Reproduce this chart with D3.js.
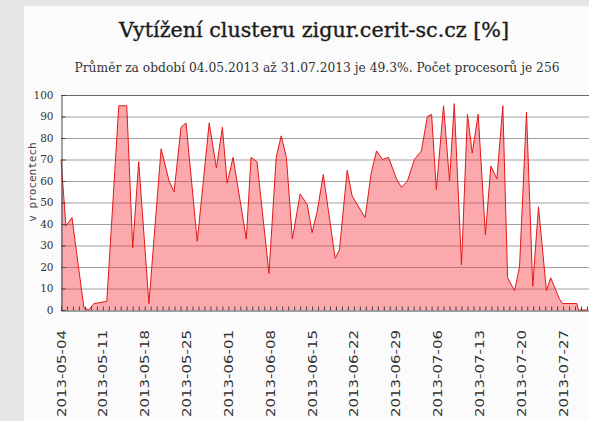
<!DOCTYPE html>
<html>
<head>
<meta charset="utf-8">
<script src="https://d3js.org/d3.v7.min.js"></script>
<style>
  body { margin: 0; background: #e6e6e6; }
  svg { display: block; }
  .axis path, .axis line { stroke: #444; }
</style>
</head>
<body>
<div id="chart"></div>
<script>
// samples: time stamp and cluster load in %
const times = [
  "2013-05-04 00:00", "2013-05-04 20:00", "2013-05-05 20:00", "2013-05-07 20:00", "2013-05-08 16:00",
  "2013-05-09 12:00", "2013-05-11 16:00", "2013-05-13 16:00", "2013-05-15 00:00", "2013-05-16 00:00",
  "2013-05-17 00:00", "2013-05-18 17:00", "2013-05-20 18:00", "2013-05-22 02:00", "2013-05-22 22:00",
  "2013-05-24 02:00", "2013-05-24 22:00", "2013-05-26 19:00", "2013-05-28 19:00", "2013-05-30 00:00",
  "2013-05-31 00:00", "2013-05-31 19:00", "2013-06-01 19:00", "2013-06-04 00:00", "2013-06-04 19:00",
  "2013-06-05 19:00", "2013-06-07 19:00", "2013-06-09 00:00", "2013-06-09 20:00", "2013-06-10 17:00",
  "2013-06-11 17:00", "2013-06-13 00:00", "2013-06-14 05:00", "2013-06-15 00:00", "2013-06-15 21:00",
  "2013-06-16 21:00", "2013-06-18 21:00", "2013-06-19 14:00", "2013-06-20 21:00", "2013-06-21 17:00",
  "2013-06-23 21:00", "2013-06-24 22:00", "2013-06-25 19:00", "2013-06-26 19:00", "2013-06-27 19:00",
  "2013-06-29 03:00", "2013-06-29 23:00", "2013-06-30 23:00", "2013-07-02 03:00", "2013-07-03 07:00",
  "2013-07-04 07:00", "2013-07-05 00:00", "2013-07-05 19:00", "2013-07-07 00:00", "2013-07-08 00:00",
  "2013-07-08 19:00", "2013-07-10 00:00", "2013-07-11 00:00", "2013-07-11 19:00", "2013-07-12 19:00",
  "2013-07-14 00:00", "2013-07-14 22:00", "2013-07-15 22:00", "2013-07-16 22:00", "2013-07-17 17:00",
  "2013-07-18 21:00", "2013-07-19 17:00", "2013-07-20 21:00", "2013-07-21 22:00", "2013-07-22 21:00",
  "2013-07-24 05:00", "2013-07-24 22:00", "2013-07-26 10:00", "2013-07-26 22:00", "2013-07-29 07:00",
  "2013-07-29 14:00", "2013-07-31 00:00"
];
const load = [
  70, 39, 43, 1, 0,
  3, 4, 95, 95, 29,
  69, 3, 75, 60, 55,
  85, 87, 32, 87, 66,
  85, 59, 71, 33, 71,
  69, 17, 71, 81, 71,
  33, 54, 49, 36, 46,
  63, 24, 28, 65, 53,
  43, 64, 74, 70, 71,
  61, 57, 60, 70, 74,
  90, 91, 56, 95, 60,
  96, 21, 91, 73, 91,
  35, 67, 61, 95, 15,
  9, 20, 92, 11, 48,
  9, 15, 5, 3, 3,
  0, 0
];
const yTicks = [0, 10, 20, 30, 40, 50, 60, 70, 80, 90, 100];
const startDate = "2013-05-04";
const endDate = "2013-08-01";

const title = "Vytížení clusteru zigur.cerit-sc.cz [%]";
const subtitle = "Průměr za období 04.05.2013 až 31.07.2013 je 49.3%. Počet procesorů je 256";
const yLabel = "v procentech";

const W = 589, H = 421;
const plot = {left: 61, right: 593, top: 95, bottom: 310};
const serif = "'DejaVu Serif', serif";

const parseT = d3.utcParse("%Y-%m-%d %H:%M");
const parseD = d3.utcParse("%Y-%m-%d");
const data = times.map((t, i) => ({t: parseT(t), v: load[i]}));

const svg = d3.select("#chart").append("svg")
  .attr("width", W)
  .attr("height", H);

// grey page, light panel
svg.append("rect").attr("width", W).attr("height", H).attr("fill", "#e6e6e6");
svg.append("rect").attr("x", 24).attr("y", 6).attr("width", W - 24).attr("height", H - 6).attr("fill", "#fbfbfb");
svg.append("rect")
  .attr("x", plot.left).attr("y", plot.top)
  .attr("width", plot.right - plot.left).attr("height", plot.bottom - plot.top)
  .attr("fill", "#fff");

const x = d3.scaleUtc()
  .domain([parseD(startDate), parseD(endDate)])
  .range([plot.left, plot.right]);
const y = d3.scaleLinear()
  .domain([0, 100])
  .range([plot.bottom, plot.top]);

// horizontal grid
svg.append("g")
  .selectAll("line")
  .data(yTicks.slice(1))
  .join("line")
    .attr("x1", plot.left).attr("x2", plot.right)
    .attr("y1", d => y(d) + 0.5).attr("y2", d => y(d) + 0.5)
    .attr("stroke", d => d === 100 ? "#666" : "#a0a0a0")
    .attr("stroke-width", 1);

// load area
svg.append("path")
  .datum(data)
  .attr("fill", "rgba(245, 50, 60, 0.42)")
  .attr("d", d3.area().x(d => x(d.t)).y0(y(0)).y1(d => y(d.v)));
svg.append("path")
  .datum(data)
  .attr("fill", "none")
  .attr("stroke", "#e31818")
  .attr("stroke-width", 1)
  .attr("d", d3.line().x(d => x(d.t)).y(d => y(d.v)));

// y axis
const yAxis = svg.append("g")
  .attr("class", "axis")
  .attr("transform", `translate(${plot.left + 0.5},0)`)
  .call(d3.axisLeft(y).tickValues(yTicks).tickSize(-4).tickPadding(8));
yAxis.select(".domain").attr("stroke", "#333");
yAxis.selectAll("text")
  .attr("font-family", serif)
  .attr("font-size", 10.5)
  .attr("fill", "#333");

// daily minor ticks
const dayAxis = svg.append("g")
  .attr("class", "axis")
  .attr("transform", `translate(0,${plot.bottom + 0.5})`)
  .call(d3.axisBottom(x).ticks(d3.utcDay.every(1)).tickSize(-4).tickFormat(""));
dayAxis.select(".domain").attr("stroke", "#bbb");
dayAxis.selectAll("line").attr("stroke", "#555");

// weekly labels
const weekAxis = svg.append("g")
  .attr("transform", `translate(0,${plot.bottom})`)
  .call(d3.axisBottom(x)
    .ticks(d3.utcSaturday.every(1))
    .tickSize(0)
    .tickFormat(d3.utcFormat("%Y-%m-%d")));
weekAxis.select(".domain").remove();
weekAxis.selectAll("text")
  .attr("transform", "rotate(-90)")
  .attr("text-anchor", "end")
  .attr("x", -20)
  .attr("y", 0)
  .attr("dy", "0.35em")
  .attr("font-family", "'DejaVu Sans', sans-serif")
  .attr("font-size", 11.5)
  .attr("textLength", 87)
  .attr("lengthAdjust", "spacingAndGlyphs")
  .attr("fill", "#333");

// titles
svg.append("text")
  .attr("x", 314).attr("y", 37)
  .attr("text-anchor", "middle")
  .attr("font-family", serif)
  .attr("font-size", 21)
  .attr("textLength", 390)
  .attr("lengthAdjust", "spacingAndGlyphs")
  .attr("fill", "#1a1a1a")
  .attr("stroke", "#1a1a1a")
  .attr("stroke-width", 0.35)
  .text(title);

svg.append("text")
  .attr("x", 317).attr("y", 72)
  .attr("text-anchor", "middle")
  .attr("font-family", serif)
  .attr("font-size", 12)
  .attr("textLength", 485)
  .attr("lengthAdjust", "spacingAndGlyphs")
  .attr("fill", "#333")
  .text(subtitle);

svg.append("text")
  .attr("transform", "rotate(-90)")
  .attr("x", -182).attr("y", 36)
  .attr("text-anchor", "middle")
  .attr("font-family", "'DejaVu Sans Mono', monospace")
  .attr("font-size", 11)
  .attr("fill", "#444")
  .text(yLabel);
</script>
</body>
</html>
